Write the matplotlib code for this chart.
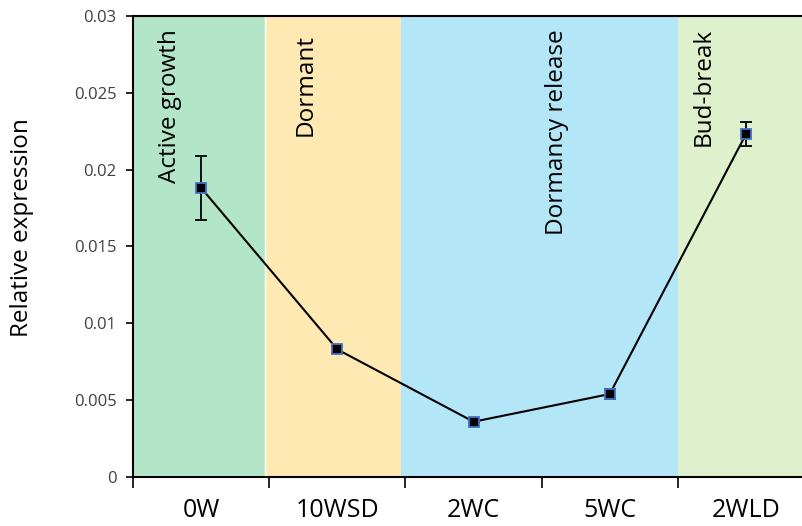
import matplotlib.pyplot as plt
import numpy as np

stages = ["0W", "10WSD", "2WC", "5WC", "2WLD"]
expression = [0.0188, 0.0083, 0.0036, 0.0054, 0.0223]
errors = [0.0021, 0.0002, 0.0001, 0.0003, 0.0008]
phases = ["Active growth", "Dormant", "Dormancy release", "Bud-break"]
y_ticks = [0, 0.005, 0.01, 0.015, 0.02, 0.025, 0.03]
y_tick_labels = ["0", "0.005", "0.01", "0.015", "0.02", "0.025", "0.03"]


def main():
    plt.rcParams['font.family'] = ['Open Sans', 'DejaVu Sans']

    fig = plt.figure(figsize=(8.02, 5.26), dpi=100)
    ax = fig.add_axes([0.166, 0.093, 0.849, 0.877])

    x = np.arange(len(stages))

    # shaded phases behind the line
    spans = [(-0.5, 0.47), (0.47, 1.47), (1.47, 3.5), (3.5, 4.5)]
    colors = ["#b3e6c8", "#ffe9b3", "#b3e6f7", "#dff0cc"]
    label_x = [-0.23, 0.77, 2.61, 3.69]
    label_top = [0.0291, 0.0288, 0.0291, 0.0292]
    for (a, b), c, name, lx, ly in zip(spans, colors, phases, label_x, label_top):
        ax.axvspan(a, b, color=c, lw=0, zorder=0)
        ax.text(lx, ly, name, rotation=90, ha="center", va="top",
                fontsize=17.5, color="black", zorder=3)
    # thin white divider between the first two bands
    ax.axvline(0.47, color="white", lw=1, zorder=1)

    ax.errorbar(x, expression, yerr=errors, color="black", lw=1.5,
                ecolor="black", elinewidth=1.3, capsize=4, capthick=1.3,
                marker="s", markersize=6.5, markerfacecolor="black",
                markeredgecolor="#4472c4", markeredgewidth=1.3, zorder=4)

    ax.set_xlim(-0.5, 4.5)
    ax.set_ylim(0, 0.03)
    ax.set_yticks(y_ticks)
    ax.set_yticklabels(y_tick_labels, fontsize=12, color="#404040")
    ax.tick_params(axis="y", direction="out", length=5, width=1.2, pad=7)

    # category labels centred, tick marks at boundaries
    ax.set_xticks(np.arange(-0.5, 4.6, 1.0))
    ax.set_xticklabels([])
    ax.set_xticks(x, minor=True)
    ax.set_xticklabels(stages, minor=True, fontsize=18)
    ax.tick_params(axis="x", which="major", direction="out", length=8, width=1.2)
    ax.tick_params(axis="x", which="minor", length=0, pad=15)

    ax.set_ylabel("Relative expression", fontsize=17.5)
    ax.yaxis.set_label_coords(-0.145, 0.54)

    for side in ["left", "bottom", "top"]:
        ax.spines[side].set_linewidth(1.5)
        ax.spines[side].set_color("black")
    ax.spines["right"].set_visible(False)

    fig.savefig("out.png", dpi=100)


if __name__ == '__main__':
    main()
